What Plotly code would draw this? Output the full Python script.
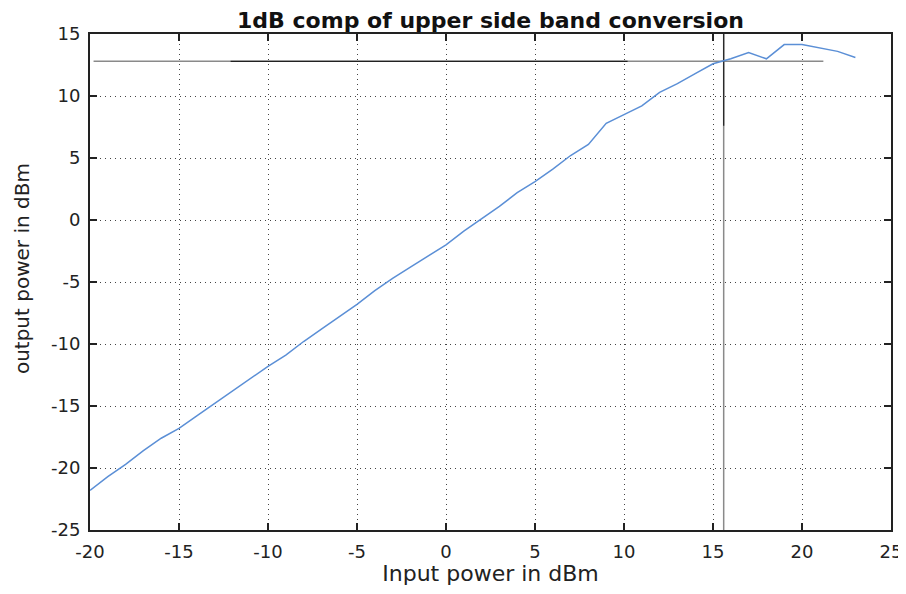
import plotly.graph_objects as go

# Data
input_dbm = [-20, -19, -18, -17, -16, -15, -14, -13, -12, -11, -10, -9, -8, -7, -6, -5, -4, -3, -2, -1,
             0, 1, 2, 3, 4, 5, 6, 7, 8, 9, 10, 11, 12, 13, 14, 15, 16, 17, 18, 19, 20, 21, 22, 23]
output_dbm = [-21.8, -20.7, -19.7, -18.6, -17.6, -16.8, -15.8, -14.8, -13.8, -12.8, -11.8, -10.9, -9.8,
              -8.8, -7.8, -6.8, -5.7, -4.7, -3.8, -2.9, -2.0, -0.9, 0.1, 1.1, 2.2, 3.1, 4.1, 5.2, 6.1,
              7.8, 8.5, 9.2, 10.3, 11.0, 11.8, 12.6, 13.0, 13.5, 13.0, 14.15, 14.15, 13.9, 13.6, 13.1]

p1db_level = 12.8
p1db_input = 15.6
hline_x = [-19.8, 21.2]
hline_dark_x = [-12.1, 10.2]
vline_y = [-25, 15]
vline_dark_y = [7.6, 15]

xticks = [-20, -15, -10, -5, 0, 5, 10, 15, 20, 25]
xticklabels = ["-20", "-15", "-10", "-5", "0", "5", "10", "15", "20", "25"]
yticks = [-25, -20, -15, -10, -5, 0, 5, 10, 15]
yticklabels = ["-25", "-20", "-15", "-10", "-5", "0", "5", "10", "15"]

FONT = "DejaVu Sans, Liberation Sans, Arial, sans-serif"

fig = go.Figure()
fig.add_trace(go.Scatter(x=hline_x, y=[p1db_level, p1db_level], mode="lines",
                         line=dict(color="#8a8a8a", width=1.5), hoverinfo="skip"))
fig.add_trace(go.Scatter(x=hline_dark_x, y=[p1db_level, p1db_level], mode="lines",
                         line=dict(color="#222222", width=1.2), hoverinfo="skip"))
fig.add_trace(go.Scatter(x=[p1db_input, p1db_input], y=vline_y, mode="lines",
                         line=dict(color="#8a8a8a", width=1.5), hoverinfo="skip"))
fig.add_trace(go.Scatter(x=[p1db_input, p1db_input], y=vline_dark_y, mode="lines",
                         line=dict(color="#222222", width=1.2), hoverinfo="skip"))
fig.add_trace(go.Scatter(x=input_dbm, y=output_dbm, mode="lines",
                         line=dict(color="#5b8fd6", width=1.5)))

axis_common = dict(
    showline=True, linecolor="#222222", linewidth=1.8, mirror="ticks",
    ticks="inside", ticklen=7, tickwidth=1.5, tickcolor="#222222",
    showgrid=True, gridcolor="#444444", griddash="1px,4px", gridwidth=1,
    zeroline=False, automargin=False,
    tickfont=dict(family=FONT, size=18, color="#222222"),
)

fig.update_layout(
    width=898, height=578,
    margin=dict(l=82, r=15, t=26, b=56),
    paper_bgcolor="white", plot_bgcolor="white",
    showlegend=False,
    title=dict(text="<b>1dB comp of upper side band conversion</b>", x=0.5, xref="paper",
               xanchor="center", y=0.979, yanchor="middle",
               font=dict(family=FONT, size=22, color="#111111")),
    xaxis=dict(range=[-20, 25], tickvals=xticks, ticktext=xticklabels, ticklabelstandoff=4,
               title=dict(text="Input power in dBm", standoff=11,
                          font=dict(family=FONT, size=22, color="#222222")),
               **axis_common),
    yaxis=dict(range=[-25, 15], tickvals=yticks, ticktext=yticklabels, ticklabelstandoff=4,
               **axis_common),
    annotations=[dict(text="output power in dBm", textangle=-90, xref="paper", yref="paper",
                      x=0, y=0.526, xanchor="center", yanchor="middle", xshift=-68,
                      showarrow=False, font=dict(family=FONT, size=20, color="#222222"))],
)

fig.write_html("out.html")
